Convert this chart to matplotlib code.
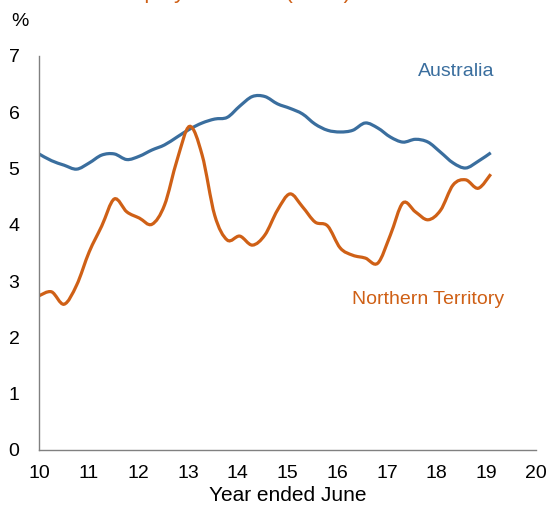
import numpy as np
import matplotlib
matplotlib.use("Agg")
import matplotlib.pyplot as plt
from matplotlib.path import Path
from matplotlib.patches import PathPatch

plt.rcParams['font.family'] = ['Liberation Sans', 'DejaVu Sans']

# quarterly observations, year ended June (first point = 2010)
n_quarters = 37
years = 10 + np.arange(n_quarters) * 0.2525

australia = [5.26, 5.14, 5.06, 4.99, 5.10, 5.24, 5.26, 5.16, 5.22, 5.33,
             5.42, 5.56, 5.70, 5.81, 5.88, 5.91, 6.11, 6.28, 6.28, 6.15,
             6.07, 5.97, 5.79, 5.68, 5.65, 5.68, 5.81, 5.72, 5.56, 5.47,
             5.52, 5.47, 5.29, 5.10, 5.01, 5.13, 5.28]

northern_territory = [2.74, 2.81, 2.59, 2.93, 3.52, 3.98, 4.46, 4.23, 4.12, 4.01,
                      4.35, 5.15, 5.75, 5.24, 4.17, 3.73, 3.80, 3.64, 3.82, 4.26,
                      4.55, 4.32, 4.05, 3.98, 3.59, 3.46, 3.41, 3.32, 3.82, 4.39,
                      4.23, 4.09, 4.26, 4.71, 4.80, 4.65, 4.90]

x_ticks = list(range(10, 21))
y_ticks = list(range(0, 8))

blue = '#3a6e9e'
orange = '#cf6016'


def smooth_path(x, y):
    # Catmull-Rom style bezier through the points, like a spreadsheet "smoothed line"
    pts = np.column_stack([x, y])
    ext = np.vstack([pts[0], pts, pts[-1]])
    verts = [pts[0]]
    codes = [Path.MOVETO]
    for i in range(1, len(ext) - 2):
        p0, p1, p2, p3 = ext[i - 1], ext[i], ext[i + 1], ext[i + 2]
        verts += [p1 + (p2 - p0) / 6, p2 - (p3 - p1) / 6, p2]
        codes += [Path.CURVE4] * 3
    return Path(verts, codes)


fig = plt.figure(figsize=(5.5, 5.08), dpi=100)
ax = fig.add_axes([39 / 550, 1 - 450 / 508, 497 / 550, 394 / 508])

for values, colour in [(australia, blue), (northern_territory, orange)]:
    ax.add_patch(PathPatch(smooth_path(years, values), facecolor='none',
                           edgecolor=colour, lw=2.3, capstyle='butt'))

ax.set_xlim(10, 20)
ax.set_ylim(0, 7)
ax.set_xticks(x_ticks)
ax.set_yticks(y_ticks)
ax.tick_params(length=0, labelsize=14)
ax.tick_params(axis='y', pad=14)
ax.tick_params(axis='x', pad=11)
for side in ['top', 'right']:
    ax.spines[side].set_visible(False)
for side in ['left', 'bottom']:
    ax.spines[side].set_color('#808080')
    ax.spines[side].set_linewidth(1)

ax.set_xlabel('Year ended June', fontsize=15, labelpad=3)
fig.text(20 / 550, 1 - 22 / 508, '%', fontsize=14, ha='center', va='center')

ax.text(18.39, 6.72, 'Australia', color=blue, fontsize=14, ha='center', va='center')
ax.text(17.83, 2.67, 'Northern Territory', color=orange, fontsize=14, ha='center', va='center')

# title sits above the top edge, only its descenders show
fig.text(218 / 550, 1.003, 'Unemployment rate (trend)', color=orange,
         fontsize=16, ha='center', va='baseline')

fig.savefig('out.png', dpi=100)
